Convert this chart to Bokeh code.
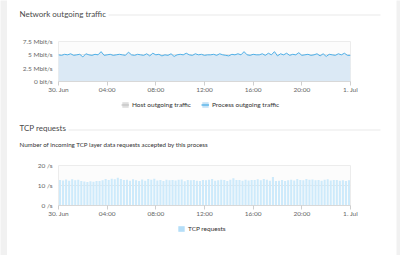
from bokeh.plotting import figure
from bokeh.models import Range1d, FixedTicker, Legend, LegendItem, ColumnDataSource
from bokeh.layouts import column, row
from bokeh.core.properties import value
from bokeh.embed import file_html
from bokeh.resources import INLINE

FONT = "Lato"

# ---------------- data ----------------
x_ticks = [0, 4, 8, 12, 16, 20, 24]
x_tick_labels = ["30. Jun", "04:00", "08:00", "12:00", "16:00", "20:00", "1. Jul"]

traffic_ticks = [0, 2.5, 5, 7.5]
traffic_tick_labels = ["0 bit/s", "2.5 Mbit/s", "5 Mbit/s", "7.5 Mbit/s"]

tcp_ticks = [0, 10, 20]
tcp_tick_labels = ["0 /s", "10 /s", "20 /s"]

# process outgoing traffic, Mbit/s, every 15 minutes (30 Jun 00:00 .. 1 Jul 00:00)
traffic_hours = [i * 0.25 for i in range(97)]
traffic = [5.0, 4.9, 5.1, 5.0, 5.2, 4.9, 5.0, 5.1, 4.6, 5.2, 5.0, 4.9,
           5.1, 5.0, 5.6, 4.9, 5.0, 5.1, 4.9, 5.0, 5.1, 5.0, 4.9, 5.5,
           5.0, 4.9, 5.1, 5.0, 4.9, 5.2, 4.8, 5.3, 5.0, 5.1, 4.8, 5.0,
           4.9, 5.2, 4.7, 5.0, 5.1, 5.0, 5.3, 5.0, 4.9, 5.2, 5.0, 5.1,
           4.9, 5.0, 5.0, 5.1, 4.9, 5.2, 5.0, 4.9, 4.8, 5.1, 5.0, 5.2,
           5.0, 5.6, 5.0, 4.9, 5.1, 5.0, 5.0, 5.2, 4.9, 5.3, 5.0, 5.6,
           4.8, 5.2, 5.0, 5.3, 4.9, 5.1, 5.0, 5.4, 4.9, 5.0, 5.1, 4.9,
           5.0, 5.2, 4.8, 5.2, 4.7, 5.1, 5.0, 4.9, 5.2, 5.0, 5.3, 4.9,
           4.9]

# incoming TCP requests, per second, 15-minute buckets
tcp_hours = [i * 0.25 + 0.125 for i in range(96)]
tcp = [12.8, 12.5, 13.0, 12.4, 13.1, 12.6, 12.9, 12.2, 12.0, 11.8, 12.1, 11.9,
       12.3, 12.2, 12.6, 13.2, 12.8, 13.4, 13.1, 13.9, 13.3, 12.7, 12.9, 12.4,
       13.1, 12.6, 12.2, 13.0, 12.4, 13.2, 12.9, 13.4, 12.5, 12.7, 12.3, 12.9,
       12.6, 12.8, 12.5, 12.9, 13.0, 12.1, 12.7, 12.6, 12.8, 12.4, 12.3, 12.8,
       12.6, 12.9, 13.2, 12.4, 12.6, 12.9, 12.7, 12.3, 12.9, 13.6, 12.8, 12.7,
       12.4, 12.9, 12.5, 12.8, 12.8, 13.1, 12.6, 13.3, 12.9, 12.4, 14.3, 12.2,
       12.4, 12.7, 12.3, 12.6, 12.9, 12.5, 13.2, 12.8, 12.6, 13.3, 12.9, 13.0,
       12.6, 12.8, 12.4, 12.9, 13.1, 12.5, 12.7, 12.8, 12.4, 12.6, 12.3, 12.6]

TITLE_C = "#4a4a4a"
TICK_C = "#666666"
RULE_C = "#e9e9e9"
PAGE_C = "#f1f1f1"
AREA_C = "#dbe9f5"
LINE_C = "#4fb0e8"
BAR_C = "#cdeafb"
W = 389  # white panel width (page x 7..396)


def no_align(p):
    try:
        p.frame_align = False
    except Exception:
        pass
    return p


def blank(width, height, fill="white"):
    """A figure whose frame is the whole canvas, y measured downward in pixels."""
    p = figure(width=width, height=height, output_backend="svg", toolbar_location=None,
               x_range=Range1d(0, width), y_range=Range1d(height, 0),
               x_axis_location=None, y_axis_location=None,
               min_border_left=0, min_border_right=0, min_border_top=0, min_border_bottom=0)
    p.grid.visible = False
    p.outline_line_color = None
    p.background_fill_color = fill
    p.border_fill_color = fill
    return no_align(p)


def chart(h, top, bottom, ymax, yticks, ylabels):
    p = figure(width=W, height=h, output_backend="svg", toolbar_location=None,
               x_range=Range1d(0, 24), y_range=Range1d(0, ymax),
               min_border_left=51, min_border_right=46,
               min_border_top=top, min_border_bottom=bottom)
    p.background_fill_color = "#fcfcfc"
    p.border_fill_color = "white"
    p.outline_line_color = "#ececec"
    p.xgrid.visible = False
    p.ygrid.grid_line_color = "#e4e4e4"
    xa = p.xaxis[0]
    xa.ticker = FixedTicker(ticks=x_ticks)
    xa.major_label_overrides = dict(zip(x_ticks, x_tick_labels))
    xa.axis_line_color = "#d8d8d8"
    xa.major_tick_line_color = "#cfcfcf"
    xa.major_tick_in = 0
    xa.major_tick_out = 4
    xa.minor_tick_line_color = None
    xa.major_label_standoff = 0
    xa.major_label_text_font = FONT
    xa.major_label_text_font_size = "6.5px"
    xa.major_label_text_color = TICK_C
    ya = p.yaxis[0]
    ya.ticker = FixedTicker(ticks=yticks)
    ya.major_label_overrides = dict(zip(yticks, ylabels))
    ya.axis_line_color = None
    ya.major_tick_line_color = None
    ya.minor_tick_line_color = None
    ya.major_tick_out = 0
    ya.major_tick_in = 0
    ya.major_label_standoff = 6
    ya.major_label_text_font = FONT
    ya.major_label_text_font_size = "6.5px"
    ya.major_label_text_color = TICK_C
    return no_align(p)


def heading(p, text, tx, ty, rx0, rx1, ry):
    p.text(x=[tx], y=[ty], text=[text], text_font=value(FONT), text_font_size="8px",
           text_color=TITLE_C, text_baseline="middle", text_align="left")
    p.segment(x0=[rx0], y0=[ry], x1=[rx1], y1=[ry], line_color=RULE_C, line_width=1)


def legend(p, items, loc):
    lg = Legend(items=items, orientation="horizontal", location=loc)
    lg.label_text_font = FONT
    lg.label_text_font_size = "6.5px"
    lg.label_text_color = "#333333"
    lg.glyph_width = 8
    lg.glyph_height = 7
    lg.label_height = 7
    lg.label_standoff = 3
    lg.spacing = 10
    lg.padding = 2
    lg.margin = 0
    lg.border_line_color = None
    lg.background_fill_alpha = 0
    lg.inactive_fill_alpha = 0
    p.add_layout(lg)


# ---- section 1 heading (page y 0..32)
t1 = blank(W, 32)
heading(t1, "Network outgoing traffic", 12, 13, 101, 373, 14.5)

# ---- chart 1 (page y 32..96, frame 41..81)
c1 = chart(64, 9, 15, 7.5, traffic_ticks, traffic_tick_labels)
src1 = ColumnDataSource(dict(x=traffic_hours, y=traffic, y0=[0] * len(traffic)))
c1.varea(x="x", y1="y0", y2="y", source=src1, fill_color=AREA_C)
c1.line(x="x", y="y", source=src1, line_color=LINE_C, line_width=1)

# ---- legend 1 (page y 96..110); hidden renderers only supply the legend icons
l1 = blank(W, 14)
icon_src = ColumnDataSource(dict(x=traffic_hours, y=traffic, y0=[0] * len(traffic)))
host_icon = l1.varea(x="x", y1="y0", y2="y", source=icon_src, fill_color="#dedede", visible=False)
host_line = l1.line(x="x", y="y", source=icon_src, line_color="#bdbdbd", line_width=1, visible=False)
proc_icon = l1.varea(x="x", y1="y0", y2="y", source=icon_src, fill_color="#c6e2f6", visible=False)
proc_line = l1.line(x="x", y="y", source=icon_src, line_color=LINE_C, line_width=1.3, visible=False)
legend(l1, [LegendItem(label="Host outgoing traffic", renderers=[host_icon, host_line]),
            LegendItem(label="Process outgoing traffic", renderers=[proc_icon, proc_line])],
       (114, 2.5))

# ---- section 2 heading (page y 110..152)
t2 = blank(W, 42)
heading(t2, "TCP requests", 12, 17, 61, 373, 19.5)
t2.text(x=[12], y=[34], text=["Number of incoming TCP layer data requests accepted by this process"],
        text_font=value(FONT), text_font_size="6.2px", text_color="#333333",
        text_baseline="middle", text_align="left")

# ---- chart 2 (page y 152..220, frame 165..205)
c2 = chart(68, 13, 15, 20, tcp_ticks, tcp_tick_labels)
c2.vbar(x=tcp_hours, top=tcp, width=0.17, fill_color=BAR_C, line_color=None)

# ---- legend 2 (page y 220..255)
l2 = blank(W, 35)
bar_icon = l2.vbar(x=tcp_hours, top=tcp, width=1, fill_color="#b5def8", line_color=None,
                   visible=False)
legend(l2, [LegendItem(label="TCP requests", renderers=[bar_icon])], (170, 23.5))

# ---- grey page margins
left = blank(7, 255, PAGE_C)
right = blank(4, 255, PAGE_C)

page = row(left, column(t1, c1, l1, t2, c2, l2, spacing=0), right, spacing=0)
open("out.html", "w").write(file_html(page, INLINE))
